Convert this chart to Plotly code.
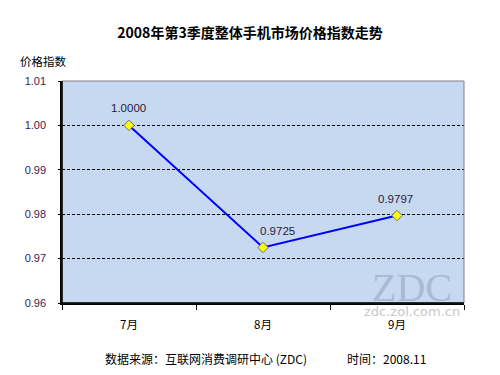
import plotly.graph_objects as go

months = ["7月", "8月", "9月"]
index_values = [1.0000, 0.9725, 0.9797]
value_labels = ["1.0000", "0.9725", "0.9797"]
y_ticks = [0.96, 0.97, 0.98, 0.99, 1.00, 1.01]
label_xshift = [-1, 14, -2]

fig = go.Figure()
fig.add_trace(go.Scatter(
    x=months, y=index_values, mode="lines+markers",
    line=dict(color="#0000FF", width=2),
    marker=dict(symbol="diamond", size=8, color="#FFFF00", line=dict(color="#6b6b8f", width=1)),
    cliponaxis=False, showlegend=False,
))
for m, v, lab, dx in zip(months, index_values, value_labels, label_xshift):
    fig.add_annotation(x=m, y=v, text=lab, showarrow=False, yshift=17, xshift=dx,
                       font=dict(family="Liberation Sans, Arial", size=11.5, color="#2a1a40"))

fig.update_layout(
    width=500, height=375,
    margin=dict(l=62, r=36, t=81, b=72),
    paper_bgcolor="white", plot_bgcolor="#C6D9F0",
    title=dict(text="<b>2008年第3季度整体手机市场价格指数走势</b>", x=0.5, xanchor="center",
               y=1 - 33/375, yanchor="middle",
               font=dict(family="Noto Sans CJK SC", size=14, color="black")),
    font=dict(family="Liberation Sans, Arial", size=11, color="black"),
)
fig.update_xaxes(
    type="category", range=[-0.5, 2.5], tickson="boundaries",
    ticks="outside", ticklen=5, tickcolor="black",
    showline=True, linecolor="black", linewidth=1.5, showgrid=False,
    tickfont=dict(family="Noto Sans CJK SC", size=11.5, color="black"),
    ticklabelstandoff=10,
)
fig.update_yaxes(
    range=[0.96, 1.01], tickvals=y_ticks, tickformat=".2f",
    showline=True, linecolor="black", linewidth=1.5,
    showgrid=True, gridcolor="black", griddash="3px,2px", gridwidth=1,
    ticks="outside", ticklen=2, tickcolor="black",
    tickfont=dict(family="Liberation Sans, Arial", size=11, color="#3a1a50"),
    ticklabelstandoff=10, zeroline=False,
)
fig.add_shape(type="rect", xref="paper", yref="paper", x0=0, y0=0, x1=1, y1=1,
              line=dict(color="#808080", width=1), layer="above")
fig.add_shape(type="line", xref="paper", yref="paper", x0=0, y0=0, x1=0, y1=1,
              line=dict(color="black", width=1.5), layer="above")
fig.add_shape(type="line", xref="paper", yref="paper", x0=0, y0=0, x1=1, y1=0,
              line=dict(color="black", width=1.5), layer="above")

fig.add_annotation(text="价格指数", xref="paper", yref="paper", x=(18-62)/402, y=(303-61)/222,
                   xanchor="left", yanchor="middle", showarrow=False,
                   font=dict(family="Noto Sans CJK SC", size=11.5, color="black"))
fig.add_annotation(text="ZDC", xref="paper", yref="paper", x=(412-62)/402, y=(303-287)/222,
                   xanchor="center", yanchor="middle", showarrow=False,
                   font=dict(family="Liberation Serif, Times New Roman", size=40, color="rgba(160,178,205,0.8)"))
fig.add_annotation(text="zdc.zol.com.cn", xref="paper", yref="paper", x=(412-62)/402, y=(303-311)/222,
                   xanchor="center", yanchor="middle", showarrow=False,
                   font=dict(family="DejaVu Sans", size=13, color="#c8c8c8"))
fig.add_annotation(text="数据来源：互联网消费调研中心 (ZDC)",
                   xref="paper", yref="paper", x=(103-62)/402, y=(303-358)/222,
                   xanchor="left", yanchor="middle", showarrow=False,
                   font=dict(family="Noto Sans CJK SC", size=12, color="black"))
fig.add_annotation(text="时间：2008.11",
                   xref="paper", yref="paper", x=(345-62)/402, y=(303-358)/222,
                   xanchor="left", yanchor="middle", showarrow=False,
                   font=dict(family="Noto Sans CJK SC", size=12, color="black"))

fig.write_html("out.html", config={"displayModeBar": False},
               post_script="document.body.style.margin='0';document.body.style.padding='0';")
